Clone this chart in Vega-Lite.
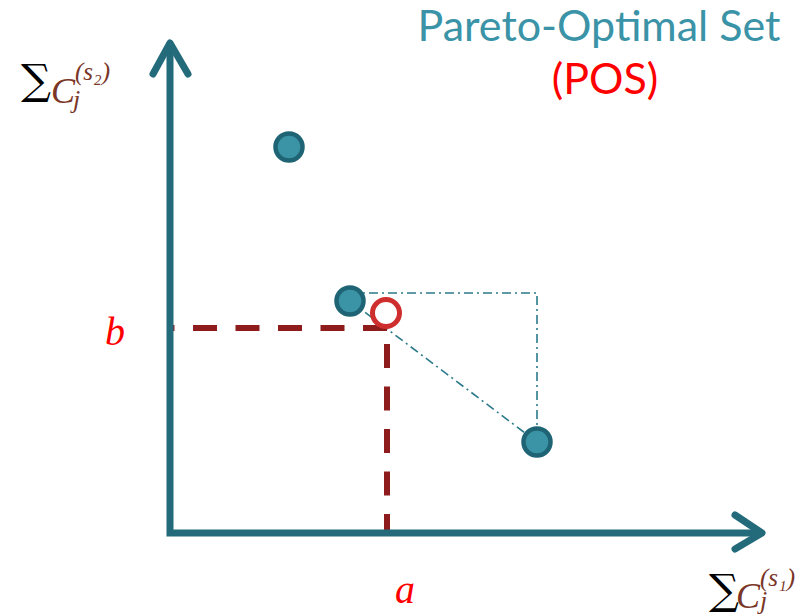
{
  "$schema": "https://vega.github.io/schema/vega-lite/v6.json",
  "width": 812,
  "height": 615,
  "padding": 0,
  "autosize": {"type": "none"},
  "background": "white",
  "config": {"view": {"stroke": null}},
  "datasets": {
    "axes": [
      {"seg": "frame", "o": 1, "x": 0, "y": 489},
      {"seg": "frame", "o": 2, "x": 0, "y": 0},
      {"seg": "frame", "o": 3, "x": 590, "y": 0}
    ],
    "arrows": [
      {"seg": "up", "o": 1, "x": -17, "y": 459},
      {"seg": "up", "o": 2, "x": 0, "y": 490},
      {"seg": "up", "o": 3, "x": 18, "y": 459},
      {"seg": "right", "o": 1, "x": 565, "y": 18},
      {"seg": "right", "o": 2, "x": 592, "y": 0},
      {"seg": "right", "o": 3, "x": 565, "y": -16}
    ],
    "dashdot": [
      {"seg": "box", "o": 1, "x": 180, "y": 240},
      {"seg": "box", "o": 2, "x": 367, "y": 240},
      {"seg": "box", "o": 3, "x": 367, "y": 91},
      {"seg": "diag", "o": 1, "x": 180, "y": 232},
      {"seg": "diag", "o": 2, "x": 367, "y": 91}
    ],
    "dashH": [
      {"seg": "b", "o": 1, "x": 217, "y": 205},
      {"seg": "b", "o": 2, "x": 0, "y": 205}
    ],
    "dashV": [
      {"seg": "a", "o": 1, "x": 217, "y": 205},
      {"seg": "a", "o": 2, "x": 217, "y": 0}
    ],
    "points": [
      {"name": "P1", "x": 119, "y": 386},
      {"name": "P2", "x": 180, "y": 232},
      {"name": "P3", "x": 367, "y": 91}
    ],
    "ideal": [{"name": "(a,b)", "x": 216, "y": 220}]
  },
  "encoding": {
    "x": {"field": "x", "type": "quantitative", "scale": {"domain": [-170, 642], "nice": false, "zero": false}, "axis": null},
    "y": {"field": "y", "type": "quantitative", "scale": {"domain": [-82, 533], "nice": false, "zero": false}, "axis": null}
  },
  "layer": [
    {
      "data": {"name": "dashdot"},
      "mark": {"type": "line", "color": "#2b7a8b", "strokeWidth": 1.6, "strokeDash": [9, 4, 2, 4]},
      "encoding": {"detail": {"field": "seg"}, "order": {"field": "o"}}
    },
    {
      "data": {"name": "dashH"},
      "mark": {"type": "line", "color": "#8e1c1c", "strokeWidth": 6, "strokeDash": [24, 18.5]},
      "encoding": {"detail": {"field": "seg"}, "order": {"field": "o"}}
    },
    {
      "data": {"name": "dashV"},
      "mark": {"type": "line", "color": "#8e1c1c", "strokeWidth": 6, "strokeDash": [24, 18.5], "strokeDashOffset": 26.5},
      "encoding": {"detail": {"field": "seg"}, "order": {"field": "o"}}
    },
    {
      "data": {"name": "axes"},
      "mark": {"type": "line", "color": "#236a7a", "strokeWidth": 7, "strokeJoin": "miter", "strokeCap": "butt"},
      "encoding": {"detail": {"field": "seg"}, "order": {"field": "o"}}
    },
    {
      "data": {"name": "arrows"},
      "mark": {"type": "line", "color": "#236a7a", "strokeWidth": 7, "strokeJoin": "round", "strokeCap": "round"},
      "encoding": {"detail": {"field": "seg"}, "order": {"field": "o"}}
    },
    {
      "data": {"name": "points"},
      "mark": {"type": "point", "shape": "circle", "filled": false, "fill": "#3b93a6", "fillOpacity": 1, "stroke": "#1f6474", "strokeWidth": 4.5, "opacity": 1, "size": 730}
    },
    {
      "data": {"name": "ideal"},
      "mark": {"type": "point", "shape": "circle", "filled": false, "fill": "white", "fillOpacity": 1, "stroke": "#cf2e2e", "strokeWidth": 5, "opacity": 1, "size": 730}
    },
    {
      "data": {"values": [{"label": "Pareto-Optimal Set", "x": 429, "y": 492}]},
      "mark": {"type": "text", "font": "Lato", "fontSize": 43, "color": "#3a93a6", "align": "center", "baseline": "alphabetic"},
      "encoding": {"text": {"field": "label"}}
    },
    {
      "data": {"values": [{"label": "(POS)", "x": 435, "y": 439}]},
      "mark": {"type": "text", "font": "Lato", "fontSize": 43, "color": "#ff0000", "align": "center", "baseline": "alphabetic"},
      "encoding": {"text": {"field": "label"}}
    },
    {
      "data": {"values": [{"label": "b", "x": -65, "y": 188}, {"label": "a", "x": 225, "y": -70}]},
      "mark": {"type": "text", "font": "Liberation Serif", "fontStyle": "italic", "fontSize": 40, "color": "#ff0000", "align": "left", "baseline": "alphabetic"},
      "encoding": {"text": {"field": "label"}}
    },
    {
      "data": {"values": [{"label": "∑", "x": -149, "y": 439}, {"label": "∑", "x": 539, "y": -71}]},
      "mark": {"type": "text", "font": "DejaVu Serif", "fontSize": 42, "color": "#000000", "align": "left", "baseline": "alphabetic"},
      "encoding": {"text": {"field": "label"}}
    },
    {
      "data": {"values": [{"label": "C", "x": -119, "y": 430}, {"label": "C", "x": 566, "y": -75}]},
      "mark": {"type": "text", "font": "Liberation Serif", "fontStyle": "italic", "fontSize": 36, "color": "#7a3626", "align": "left", "baseline": "alphabetic"},
      "encoding": {"text": {"field": "label"}}
    },
    {
      "data": {"values": [{"label": "(s₂)", "x": -95, "y": 453}, {"label": "(s₁)", "x": 590, "y": -53}]},
      "mark": {"type": "text", "font": "Liberation Serif", "fontStyle": "italic", "fontSize": 25, "color": "#7a3626", "align": "left", "baseline": "alphabetic"},
      "encoding": {"text": {"field": "label"}}
    },
    {
      "data": {"values": [{"label": "j", "x": -97, "y": 425}, {"label": "j", "x": 590, "y": -76}]},
      "mark": {"type": "text", "font": "Liberation Serif", "fontStyle": "italic", "fontSize": 26, "color": "#7a3626", "align": "left", "baseline": "alphabetic"},
      "encoding": {"text": {"field": "label"}}
    }
  ]
}
